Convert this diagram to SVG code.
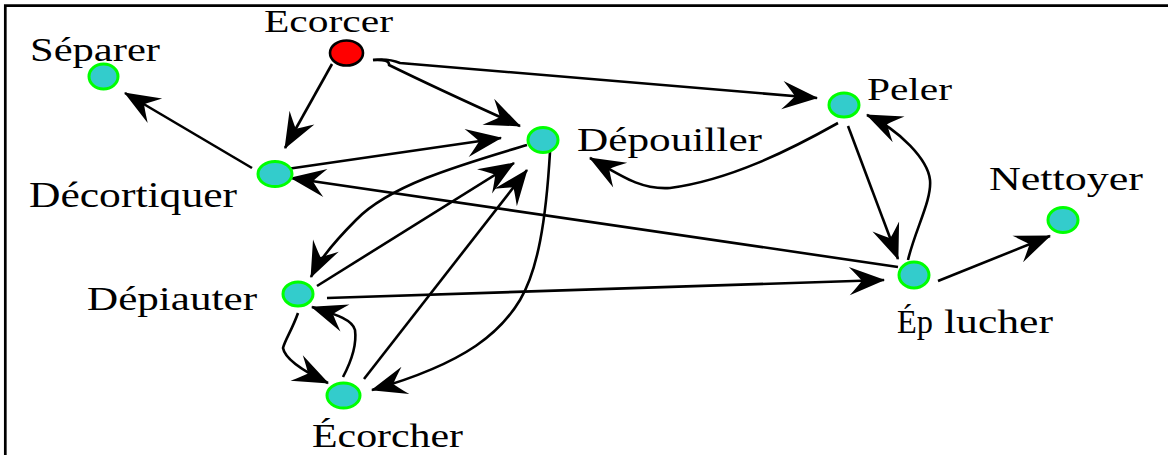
<svg xmlns="http://www.w3.org/2000/svg" width="1168" height="455" viewBox="0 0 1168 455">
<style>
.lbl{font-family:"Liberation Serif","Times New Roman",serif;fill:#000}
.n{fill:#33CCCC;stroke:#00FF00;stroke-width:3}
.e{fill:none;stroke:#000;stroke-width:2.6;stroke-linejoin:round;marker-end:url(#ah)}
</style>
<defs>
<marker id="ah" markerUnits="userSpaceOnUse" orient="auto" refX="0" refY="0" markerWidth="40" markerHeight="32" viewBox="-36 -15 38 30" overflow="visible">
<path d="M1,0 L-33,-13.5 Q-25,-5 -21,0 Q-25,5 -33,13.5 Z" fill="#000"/>
</marker>
</defs>
<rect width="1168" height="455" fill="#fff"/>
<path d="M5.3,455 L5.3,5.7 L1168,5.7" fill="none" stroke="#000" stroke-width="2.7"/>
<g id="connectors">
<path class="e" d="M332,64 L285,148"/>
<path class="e" d="M373,60 Q390,59 389,65 Q440,90 520,126"/>
<path class="e" d="M373,60 Q388,58 400,63 L817,98"/>
<path class="e" d="M252,168 L125,93"/>
<path class="e" d="M287,169 L501,138"/>
<path class="e" d="M898,267 L291,178"/>
<path class="e" d="M527,145 C460,165 390,185 356,220 C336,240 320,258 311,277"/>
<path class="e" d="M317,286 L514,163"/>
<path class="e" d="M364,379 L527,170"/>
<path class="e" d="M550,152 C546,220 538,270 520,300 S470,362 372,390"/>
<path class="e" d="M298,313 C292,330 285,340 283,348 C285,360 305,372 328,383"/>
<path class="e" d="M343,377 C352,360 357,345 355,330 C352,318 330,313 312,307"/>
<path class="e" d="M327,298 L884,280"/>
<path class="e" d="M838,123 C790,150 730,180 670,188 C640,190 620,175 590,158"/>
<path class="e" d="M848,126 L898,259"/>
<path class="e" d="M908,260 C915,230 932,200 930,180 C928,160 900,130 867,115"/>
<path class="e" d="M938,281 L1050,236"/>
</g>
<g id="Ecorcer">
<ellipse cx="346.5" cy="53" rx="16.5" ry="12.5" fill="#FF0000" stroke="#000" stroke-width="2.6"/>
<text class="lbl" x="264" y="32" font-size="31" textLength="129" lengthAdjust="spacingAndGlyphs">Ecorcer</text>
</g>
<g id="Separer">
<ellipse class="n" cx="103.5" cy="76.5" rx="14.5" ry="12.5"/>
<text class="lbl" x="30" y="61" font-size="34" textLength="130" lengthAdjust="spacingAndGlyphs">Séparer</text>
</g>
<g id="Decortiquer">
<ellipse class="n" cx="275" cy="174" rx="17" ry="12.5"/>
<text class="lbl" x="29" y="207" font-size="35" textLength="208" lengthAdjust="spacingAndGlyphs">Décortiquer</text>
</g>
<g id="Depouiller">
<ellipse class="n" cx="543" cy="140" rx="15" ry="12.5"/>
<text class="lbl" x="577" y="151" font-size="34" textLength="185" lengthAdjust="spacingAndGlyphs">Dépouiller</text>
</g>
<g id="Peler">
<ellipse class="n" cx="844" cy="105" rx="15" ry="12"/>
<text class="lbl" x="867" y="100" font-size="32" textLength="85" lengthAdjust="spacingAndGlyphs">Peler</text>
</g>
<g id="Nettoyer">
<ellipse class="n" cx="1063" cy="220" rx="15" ry="12.5"/>
<text class="lbl" x="989" y="190" font-size="34" textLength="154" lengthAdjust="spacingAndGlyphs">Nettoyer</text>
</g>
<g id="Eplucher">
<ellipse class="n" cx="914" cy="275" rx="15" ry="13"/>
<text class="lbl" y="333" font-size="33"><tspan x="897" textLength="36" lengthAdjust="spacingAndGlyphs">Ép</tspan><tspan x="944" textLength="109" lengthAdjust="spacingAndGlyphs">lucher</tspan></text>
</g>
<g id="Depiauter">
<ellipse class="n" cx="298" cy="294" rx="15" ry="12"/>
<text class="lbl" x="87" y="310" font-size="34" textLength="170" lengthAdjust="spacingAndGlyphs">Dépiauter</text>
</g>
<g id="Ecorcher">
<ellipse class="n" cx="343.5" cy="395.5" rx="16.5" ry="12.5"/>
<text class="lbl" x="312" y="447" font-size="33" textLength="151" lengthAdjust="spacingAndGlyphs">Écorcher</text>
</g>
</svg>
